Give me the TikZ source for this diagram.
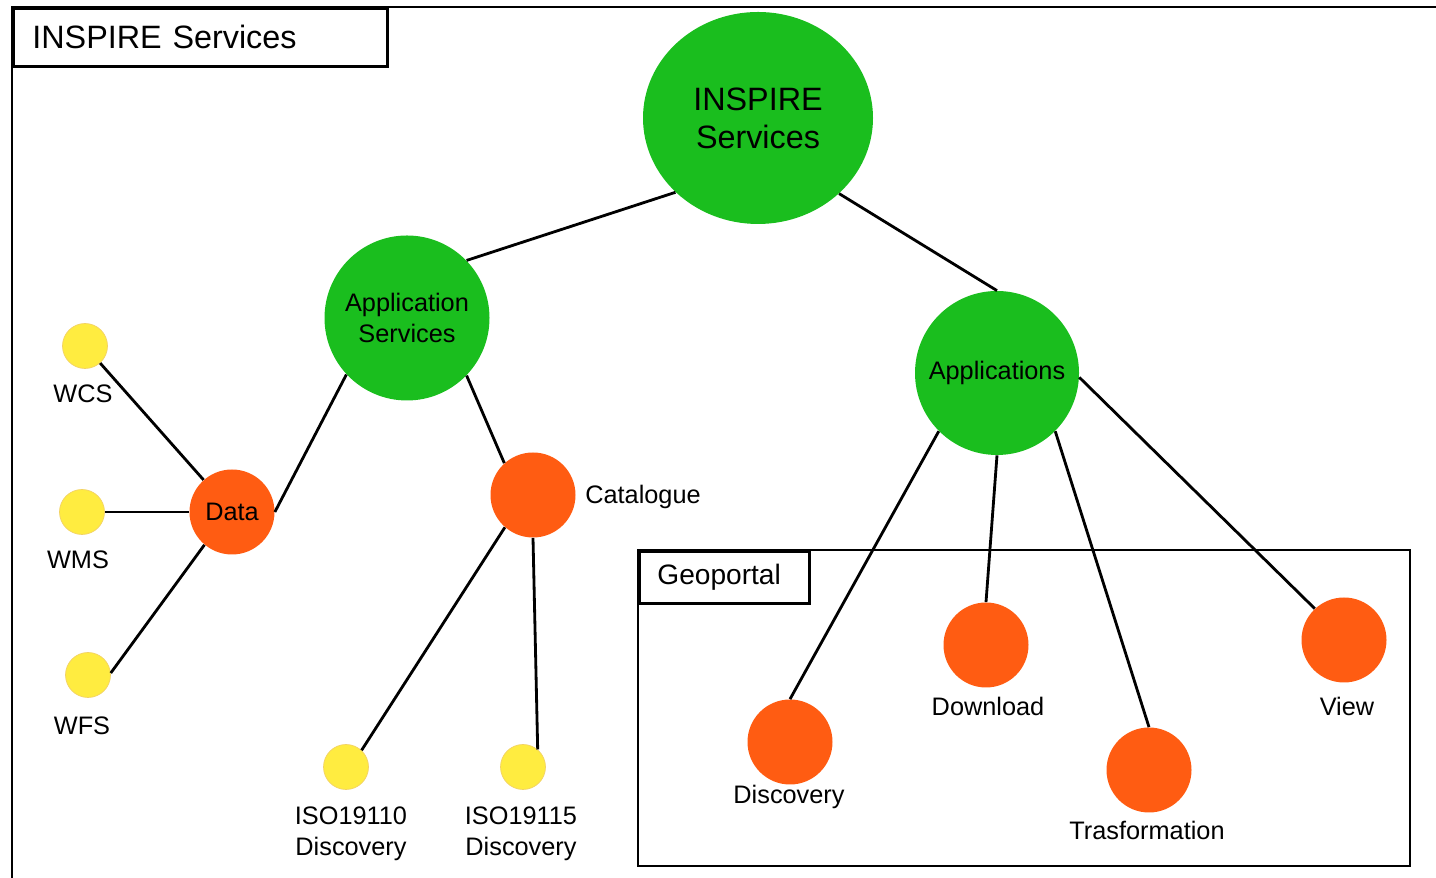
\documentclass[tikz,border=0pt]{standalone}
\usepackage{fontspec}
\setmainfont{Liberation Sans}
\usetikzlibrary{shapes.geometric}
\definecolor{svcgreen}{RGB}{26,190,30}
\definecolor{svcorange}{RGB}{255,92,18}
\definecolor{svcyellow}{RGB}{255,236,64}
\definecolor{svcyellowrim}{RGB}{242,210,100}
\newcommand{\lblfont}{\fontsize{14.4}{17.6}\selectfont}

\begin{document}
\begin{tikzpicture}
        \useasboundingbox (0,0) rectangle (28.72,17.56);
        \draw[line width=1.6pt] (0.24,0) -- (0.24,17.42) -- (28.72,17.42);
        \draw[line width=1.6pt] (12.76,0.24) rectangle (28.2,6.56);
        \begin{scope}[every node/.style={rectangle,draw,line width=1.6pt,align=left,inner ysep=0pt}]
            \node (title) [anchor=north west, minimum height=1.16cm, text width=6.72cm, inner xsep=0.38cm, font=\fontsize{18.4}{22}\selectfont] at (0.24, 17.42) {INSPIRE Services};
            \node (geo) [anchor=north west, minimum height=1.04cm, text width=2.68cm, inner xsep=0.36cm, font=\fontsize{16}{19}\selectfont] at (12.76, 6.56) {Geoportal};
        \end{scope}
        \begin{scope}[every node/.style={circle,fill=svcgreen,inner sep=0pt,align=center,font=\lblfont}]
            \node (root) [ellipse, minimum width=4.6cm, minimum height=4.24cm, font=\fontsize{18.4}{21.5}\selectfont] at (15.16, 15.2) {INSPIRE\\Services};
            \node (appsvc) [minimum size=3.3cm] at (8.14, 11.2) {Application\\Services};
            \node (apps) [minimum size=3.28cm] at (19.94, 10.1) {Applications};
        \end{scope}
        \begin{scope}[every node/.style={circle,fill=svcorange,inner sep=0pt,minimum size=1.7cm,font=\lblfont}]
            \node (data) at (4.64, 7.32) {Data};
            \node (cat) at (10.66, 7.66) {};
            \node (disc) at (15.8, 2.72) {};
            \node (down) at (19.72, 4.66) {};
            \node (trans) at (22.98, 2.16) {};
            \node (view) at (26.88, 4.76) {};
        \end{scope}
        \begin{scope}[every node/.style={circle,fill=svcyellow,draw=svcyellowrim,thin,inner sep=0pt,minimum size=0.9cm}]
            \node (wcs) at (1.7, 10.64) {};
            \node (wms) at (1.64, 7.32) {};
            \node (wfs) at (1.76, 4.06) {};
            \node (iso10) at (6.92, 2.22) {};
            \node (iso15) at (10.46, 2.22) {};
        \end{scope}
        \begin{scope}[every node/.style={align=center,inner sep=0pt,font=\lblfont}]
            \node (wcsl) at (1.66, 9.68) {WCS};
            \node (wmsl) at (1.56, 6.36) {WMS};
            \node (wfsl) at (1.64, 3.04) {WFS};
            \node (iso10l) at (7.02, 0.88) {ISO19110\\Discovery};
            \node (iso15l) at (10.42, 0.88) {ISO19115\\Discovery};
            \node (catl) at (12.86, 7.62) {Catalogue};
            \node (discl) at (15.78, 1.62) {Discovery};
            \node (downl) at (19.76, 3.44) {Download};
            \node (transl) at (22.94, 0.96) {Trasformation};
            \node (viewl) at (26.94, 3.44) {View};
        \end{scope}
        \path (root.222) edge[draw=black,line width=1.6pt] (appsvc.44);
        \path (root.317) edge[draw=black,line width=1.6pt] (apps.north);
        \path (appsvc.223) edge[draw=black,line width=1.6pt] (data.east);
        \path (appsvc.316) edge[draw=black,line width=1.6pt] (cat.132);
        \path (data) edge[draw=black,line width=1.6pt] (wcs);
        \path (data) edge[draw=black,line width=1.6pt] (wms);
        \path (data.230) edge[draw=black,line width=1.6pt] (wfs.5);
        \path (cat.229) edge[draw=black,line width=1.6pt] (iso10.47);
        \path (cat.south) edge[draw=black,line width=1.6pt] (iso15.50);
        \path (apps.225) edge[draw=black,line width=1.6pt] (disc.north);
        \path (apps.south) edge[draw=black,line width=1.6pt] (down.north);
        \path (apps.315) edge[draw=black,line width=1.6pt] (trans.north);
        \path (apps.357) edge[draw=black,line width=1.6pt] (view.133);
    \end{tikzpicture}
\end{document}
